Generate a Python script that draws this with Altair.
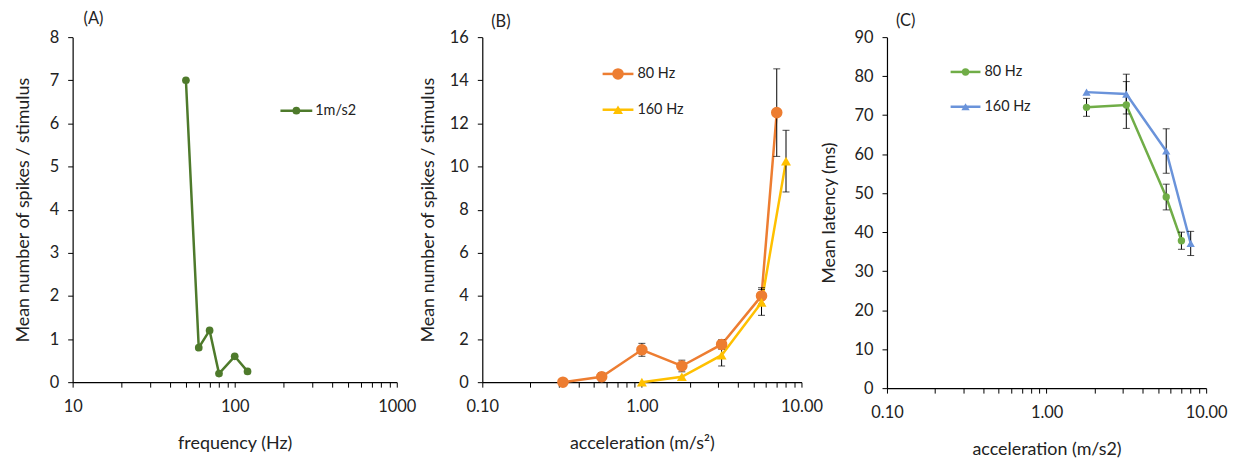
import altair as alt
import pandas as pd

# ---------------- data ----------------
A_freq = [50, 60, 70, 80, 100, 120]
A_spikes = [7.0, 0.8, 1.2, 0.2, 0.6, 0.25]

B_acc_80 = [0.32, 0.56, 1.0, 1.78, 3.16, 5.62, 7.0]
B_spk_80 = [0.0, 0.25, 1.5, 0.75, 1.75, 4.0, 12.5]
B_err_80 = [0.0, 0.2, 0.3, 0.27, 0.22, 0.38, 2.03]
B_acc_160 = [1.0, 1.78, 3.16, 5.62, 8.0]
B_spk_160 = [0.0, 0.25, 1.25, 3.7, 10.25]
B_err_160 = [0.0, 0.0, 0.5, 0.6, 1.43]

C_acc_80 = [1.78, 3.16, 5.62, 7.0]
C_lat_80 = [72.0, 72.6, 49.0, 37.8]
C_err_80 = [2.3, 6.0, 3.3, 2.2]
C_acc_160 = [1.78, 3.16, 5.62, 8.0]
C_lat_160 = [75.9, 75.4, 60.8, 37.1]
C_err_160 = [0.0, 5.1, 5.7, 3.1]

A_ticks = [10, 20, 30, 40, 50, 60, 70, 80, 90, 100, 200, 300, 400, 500, 600, 700, 800, 900, 1000]
BC_ticks = [0.1, 0.2, 0.3, 0.4, 0.5, 0.6, 0.7, 0.8, 0.9, 1, 2, 3, 4, 5, 6, 7, 8, 9, 10]

FONT = "Lato"
DEC_EXPR = "abs(log(datum.value)/log(10) - round(log(datum.value)/log(10))) < 1e-6 ? datum.label : ''"


def make_axes(xticks, xfmt, xtitle, ytitle, ystep, ymax, ytitlepad):
    xa = alt.Axis(values=xticks, format=xfmt, labelExpr=DEC_EXPR, labelPadding=12,
                  titlePadding=19, labelOverlap=False, labelFlush=False, title=xtitle)
    ya = alt.Axis(values=list(range(0, ymax + 1, ystep)), labelPadding=9, titlePadding=ytitlepad, title=ytitle)
    return xa, ya


def series_layers(x, y, err, xs, ys, xa, ya, color, shape, size):
    df = pd.DataFrame({"x": x, "y": y, "err": err})
    df["lo"] = df["y"] - df["err"]
    df["hi"] = df["y"] + df["err"]
    xenc = alt.X("x:Q", scale=xs, axis=xa)
    yenc = alt.Y("y:Q", scale=ys, axis=ya)
    line = alt.Chart(df).mark_line(color=color, strokeWidth=2.5).encode(x=xenc, y=yenc)
    dfe = df[df["err"] > 0]
    rule = alt.Chart(dfe).mark_rule(color="#000", strokeWidth=1).encode(
        x=xenc, y=alt.Y("lo:Q", scale=ys, axis=ya), y2="hi:Q")
    cap_lo = alt.Chart(dfe).mark_tick(color="#000", orient="horizontal", size=7, thickness=1).encode(
        x=xenc, y=alt.Y("lo:Q", scale=ys, axis=ya))
    cap_hi = alt.Chart(dfe).mark_tick(color="#000", orient="horizontal", size=7, thickness=1).encode(
        x=xenc, y=alt.Y("hi:Q", scale=ys, axis=ya))
    pts = alt.Chart(df).mark_point(filled=True, opacity=1, color=color, shape=shape, size=size).encode(
        x=xenc, y=yenc)
    errs = [rule, cap_lo, cap_hi] if len(dfe) else []
    return line, errs, pts


def legend(dummy, entries, x0, x1, xt, label_size=14.5):
    layers = []
    for (lab, color, shape, size, yy) in entries:
        layers.append(alt.Chart(dummy).mark_rule(color=color, strokeWidth=2.5).encode(
            x=alt.value(x0), x2=alt.value(x1), y=alt.value(yy)))
        layers.append(alt.Chart(dummy).mark_point(filled=True, opacity=1, color=color, shape=shape, size=size).encode(
            x=alt.value((x0 + x1) / 2), y=alt.value(yy)))
        layers.append(alt.Chart(dummy).mark_text(align="left", baseline="middle", font=FONT, fontSize=label_size,
                                                 color="#222").encode(
            x=alt.value(xt), y=alt.value(yy + 0.5), text=alt.value(lab)))
    return layers


def panel_label(dummy, text, x, y):
    return alt.Chart(dummy).mark_text(align="left", baseline="middle", font=FONT, fontSize=16.5, color="#222").encode(
        x=alt.value(x), y=alt.value(y), text=alt.value(text))


dummy = pd.DataFrame({"a": [0]})

# ---------- Panel A ----------
WA, HA = 326, 347
xsA = alt.Scale(type="log", domain=[10, 1000], nice=False)
ysA = alt.Scale(domain=[0, 8], nice=False, zero=True)
xaA, yaA = make_axes(A_ticks, "d", "frequency (Hz)", "Mean number of spikes / stimulus", 1, 8, 17)
lnA, erA, ptA = series_layers(A_freq, A_spikes, [0] * len(A_freq), xsA, ysA, xaA, yaA, "#4E7A2B", "circle", 60)
legA = legend(dummy, [("1m/s2", "#4E7A2B", "circle", 60, 74)], 209, 241, 244)
chartA = alt.layer(lnA, *erA, ptA, *legA, panel_label(dummy, "(A)", 11, -18)).properties(width=WA, height=HA)

# ---------- Panel B ----------
WB, HB = 321, 347
xsB = alt.Scale(type="log", domain=[0.1, 10], nice=False)
ysB = alt.Scale(domain=[0, 16], nice=False, zero=True)
xaB, yaB = make_axes(BC_ticks, ".2f", "acceleration (m/s²)", "Mean number of spikes / stimulus", 2, 16, 12)
lnB1, erB1, ptB1 = series_layers(B_acc_80, B_spk_80, B_err_80, xsB, ysB, xaB, yaB, "#ED7D31", "circle", 135)
lnB2, erB2, ptB2 = series_layers(B_acc_160, B_spk_160, B_err_160, xsB, ysB, xaB, yaB, "#FFC000", "triangle-up", 100)
legB = legend(dummy, [("80 Hz", "#ED7D31", "circle", 135, 37), ("160 Hz", "#FFC000", "triangle-up", 100, 73)],
              121, 152, 156)
chartB = alt.layer(lnB1, lnB2, *erB1, *erB2, ptB1, ptB2, *legB,
                   panel_label(dummy, "(B)", 9, -15)).properties(width=WB, height=HB)

# ---------- Panel C ----------
WC, HC = 321, 353
xsC = alt.Scale(type="log", domain=[0.1, 10], nice=False)
ysC = alt.Scale(domain=[0, 90], nice=False, zero=True)
xaC, yaC = make_axes(BC_ticks, ".2f", "acceleration (m/s2)", "Mean latency (ms)", 10, 90, 16)
lnC1, erC1, ptC1 = series_layers(C_acc_80, C_lat_80, C_err_80, xsC, ysC, xaC, yaC, "#70AD47", "circle", 55)
lnC2, erC2, ptC2 = series_layers(C_acc_160, C_lat_160, C_err_160, xsC, ysC, xaC, yaC, "#6A93DA", "triangle-up", 70)
legC = legend(dummy, [("80 Hz", "#70AD47", "circle", 55, 35), ("160 Hz", "#6A93DA", "triangle-up", 70, 70)],
              64, 94, 98)
chartC = alt.layer(lnC1, lnC2, *erC1, *erC2, ptC1, ptC2, *legC,
                   panel_label(dummy, "(C)", 9, -16)).properties(width=WC, height=HC)

chart = alt.hconcat(chartA, chartB, chartC, spacing=86, bounds="flush").properties(
    padding={"left": 6, "top": 2, "right": 5, "bottom": 5},
    background="white",
).configure_view(strokeWidth=0, stroke="transparent").configure_axis(
    grid=False,
    domainColor="#000",
    domainWidth=1.2,
    tickColor="#000",
    tickSize=5,
    labelFont=FONT,
    labelFontSize=16.5,
    labelColor="#222",
    titleFont=FONT,
    titleFontSize=18,
    titleFontWeight="normal",
    titleColor="#222",
)

chart.save("out.html", embed_options={"renderer": "svg", "actions": False})
